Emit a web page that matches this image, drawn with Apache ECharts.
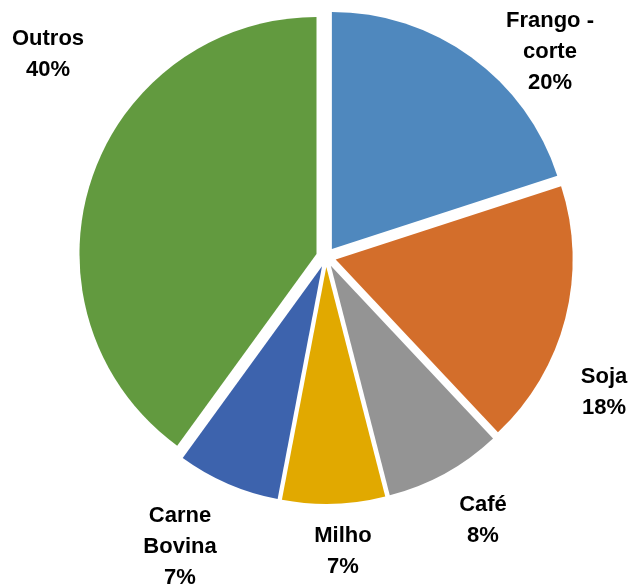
<!DOCTYPE html>
<html>
<head>
<meta charset="utf-8">
<script src="https://cdn.jsdelivr.net/npm/echarts@6/dist/echarts.min.js"></script>
<style>
  html, body { margin: 0; padding: 0; background: #fff; }
  #main { width: 634px; height: 586px; }
</style>
</head>
<body>
<div id="main"></div>
<script>
var categories = ['Frango -\ncorte', 'Soja', 'Café', 'Milho', 'Carne\nBovina', 'Outros'];
var shares = [20, 18, 8, 7, 7, 40];
var colors = ['#4F88BE', '#D36E2B', '#949494', '#E1A900', '#3D63AD', '#629A3F'];

// where Excel put each label (centre of the text block)
var labelSpots = [[550, 52], [604, 392], [483, 520], [343, 551], [180, 547], [48, 54]];

var myChart = echarts.init(document.getElementById('main'));

var pieBase = {
  type: 'pie',
  center: [326, 257],
  radius: [0, 237],
  startAngle: 90,
  clockwise: true,
  silent: true,
  emphasis: { scale: false }
};

var option = {
  animation: false,
  series: [
    // exploded slices
    Object.assign({}, pieBase, {
      selectedMode: 'multiple',
      selectedOffset: 10,
      label: { show: false },
      labelLine: { show: false },
      data: categories.map(function (c, i) {
        return { name: c, value: shares[i], selected: true, itemStyle: { color: colors[i] } };
      })
    }),
    // same data again, see-through, only to carry the labels
    Object.assign({}, pieBase, {
      itemStyle: { color: 'rgba(0,0,0,0)' },
      label: {
        show: true,
        position: 'inside',
        formatter: function (p) { return p.name + '\n' + p.value + '%'; },
        fontFamily: 'Liberation Sans',
        fontWeight: 'bold',
        fontSize: 22,
        lineHeight: 31,
        color: '#000'
      },
      labelLine: { show: false },
      labelLayout: function (p) {
        var s = labelSpots[p.dataIndex];
        return { x: s[0], y: s[1], align: 'center', verticalAlign: 'middle' };
      },
      data: categories.map(function (c, i) {
        return { name: c, value: shares[i] };
      })
    })
  ]
};

myChart.setOption(option);
</script>
</body>
</html>
